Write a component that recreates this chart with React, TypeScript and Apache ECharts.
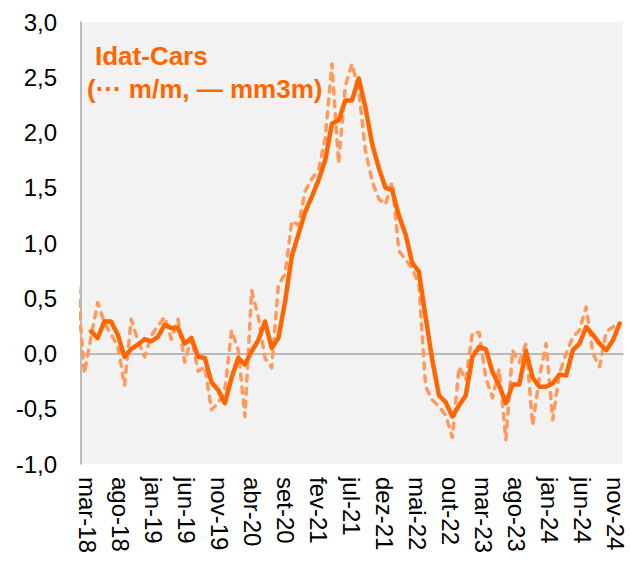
import React, { useEffect, useRef } from "react";
import * as echarts from "echarts";

// Portuguese month abbreviations; the series runs feb-18 .. nov-24
const MONTHS_PT = ["jan", "fev", "mar", "abr", "mai", "jun", "jul", "ago", "set", "out", "nov", "dez"];

// Axis categories: mar-18 .. nov-24 (81 months)
const categories: string[] = [];
for (let y = 2018; y <= 2024; y++) {
  for (let m = 0; m < 12; m++) {
    if (y === 2018 && m < 2) continue;
    if (y === 2024 && m > 10) continue;
    categories.push(`${MONTHS_PT[m]}-${String(y).slice(2)}`);
  }
}

// m/m (dashed) starts one month earlier, feb-18, which falls just outside the axis
const mmStartOffset = -1;
const mmValues = [
  0.6,
  -0.18, 0.15, 0.46, 0.28, 0.17, 0.07, -0.29, 0.31, 0.12, -0.03,
  0.16, 0.25, 0.33, 0.13, 0.31, -0.08, 0.15, -0.16, -0.12, -0.51,
  -0.45, -0.33, 0.21, 0.03, -0.57, 0.57, 0.33, -0.04, -0.13, 0.62,
  0.72, 1.2, 1.16, 1.47, 1.58, 1.66, 1.95, 2.62, 1.72, 2.42,
  2.62, 2.38, 1.84, 1.56, 1.4, 1.35, 1.55, 0.93, 0.85, 0.77,
  0.62, -0.3, -0.42, -0.48, -0.56, -0.76, -0.12, -0.24, 0.19, 0.19,
  -0.22, -0.4, -0.14, -0.78, 0.03, -0.08, 0.09, -0.65, -0.22, 0.09,
  -0.6, -0.18, 0.0, 0.15, 0.21, 0.42, 0.0, -0.12, 0.2, 0.24,
  0.27,
];

// mm3m (solid), mar-18 .. nov-24
const mm3mValues: (number | null)[] = [
  null, 0.2, 0.14, 0.29, 0.29, 0.17, -0.03, 0.04, 0.08, 0.13,
  0.11, 0.15, 0.26, 0.23, 0.23, 0.09, 0.14, -0.03, -0.04, -0.26,
  -0.33, -0.45, -0.22, -0.04, -0.1, 0.02, 0.12, 0.29, 0.05, 0.14,
  0.47, 0.88, 1.08, 1.28, 1.42, 1.57, 1.75, 2.08, 2.11, 2.29,
  2.29, 2.49, 2.23, 1.9, 1.68, 1.5, 1.48, 1.25, 1.08, 0.82,
  0.74, 0.33, -0.06, -0.38, -0.44, -0.57, -0.47, -0.38, -0.03, 0.06,
  0.04, -0.17, -0.29, -0.45, -0.28, -0.28, 0.02, -0.22, -0.3, -0.3,
  -0.27, -0.19, -0.2, 0.03, 0.09, 0.24, 0.17, 0.09, 0.03, 0.12,
  0.27,
];

const yMin = -1;
const yMax = 3;
const yStep = 0.5;

const titleLine1 = "Idat-Cars";
const titleLine2 = "(\u00B7\u00B7\u00B7 m/m, \u2014 mm3m)";

const FONT = "'Liberation Sans', Arial, sans-serif";
const ORANGE = "#FF6600";
const ORANGE_LIGHT = "#FF9A5C";
const AXIS_GRAY = "#A6A6A6";

export default function App() {
  const ref = useRef<HTMLDivElement>(null);

  useEffect(() => {
    if (!ref.current) return;
    const chart = echarts.init(ref.current, undefined, { renderer: "svg" });

    const mmData = mmValues.map((v, i) => [i + mmStartOffset, v]);
    const mm3mData = mm3mValues
      .map((v, i) => [i, v] as [number, number | null])
      .filter((d) => d[1] !== null);

    chart.setOption({
      animation: false,
      backgroundColor: "#FFFFFF",
      textStyle: { fontFamily: FONT },
      grid: [
        {
          left: 81,
          right: 7,
          top: 22,
          bottom: 100,
          show: true,
          backgroundColor: "#F2F2F2",
          borderWidth: 0,
          containLabel: false,
        },
        {
          // label-only grid: month labels sit slightly inset, as in the source
          left: 84,
          right: 11,
          top: 22,
          bottom: 100,
          show: false,
          containLabel: false,
        },
      ],
      graphic: [
        {
          type: "text",
          left: 95,
          top: 43,
          style: {
            text: titleLine1,
            fill: ORANGE,
            font: `bold 26px ${FONT}`,
          },
        },
        {
          type: "text",
          left: 87,
          top: 76,
          style: {
            text: titleLine2,
            fill: ORANGE,
            font: `bold 26px ${FONT}`,
          },
        },
      ],
      xAxis: [
        {
          type: "value",
          gridIndex: 0,
          min: -0.5,
          max: categories.length - 0.5,
          position: "bottom",
          axisLine: { show: true, onZero: true, lineStyle: { color: AXIS_GRAY, width: 1.5 } },
          axisTick: { show: false },
          axisLabel: { show: false },
          splitLine: { show: false },
        },
        {
          type: "category",
          gridIndex: 1,
          data: categories,
          boundaryGap: true,
          position: "bottom",
          axisLine: { show: false, onZero: false },
          axisTick: { show: false },
          splitLine: { show: false },
          axisLabel: {
            interval: 4,
            rotate: -90,
            margin: 13,
            fontSize: 24,
            lineHeight: 20,
            color: "#000000",
            fontFamily: FONT,
          },
        },
      ],
      yAxis: [
        {
          type: "value",
          gridIndex: 0,
          min: yMin,
          max: yMax,
          interval: yStep,
          axisLine: { show: true, onZero: false, lineStyle: { color: AXIS_GRAY, width: 1.5 } },
          axisTick: { show: false },
          splitLine: { show: false },
          axisLabel: {
            margin: 24,
            fontSize: 24,
            color: "#000000",
            fontFamily: FONT,
            formatter: (v: number) => v.toFixed(1).replace(".", ","),
          },
        },
        {
          type: "value",
          gridIndex: 1,
          min: yMin,
          max: yMax,
          show: false,
        },
      ],
      series: [
        {
          name: "m/m",
          type: "line",
          xAxisIndex: 0,
          yAxisIndex: 0,
          data: mmData,
          showSymbol: false,
          clip: true,
          lineStyle: { color: ORANGE_LIGHT, width: 3.5, type: [6, 7], cap: "round", join: "round" },
          z: 2,
        },
        {
          name: "mm3m",
          type: "line",
          xAxisIndex: 0,
          yAxisIndex: 0,
          data: mm3mData,
          showSymbol: false,
          clip: true,
          lineStyle: { color: ORANGE, width: 4.5, join: "round", cap: "round" },
          z: 3,
        },
      ],
    });

    return () => chart.dispose();
  }, []);

  return (
    <div
      ref={ref}
      style={{ position: "fixed", left: 0, top: 0, width: 630, height: 564 }}
    />
  );
}
